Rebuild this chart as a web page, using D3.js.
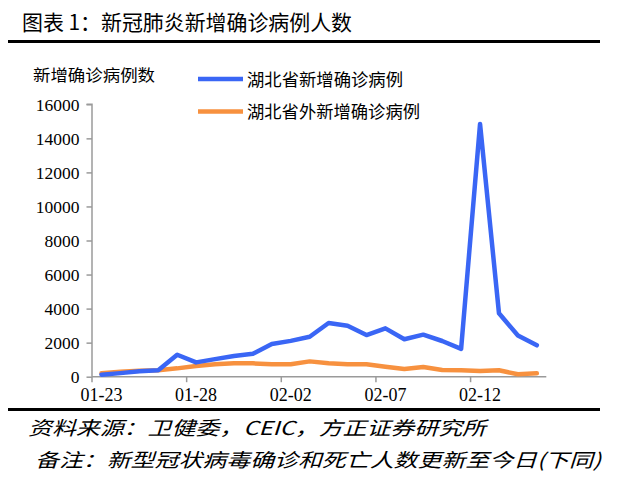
<!DOCTYPE html>
<html><head><meta charset="utf-8">
<script src="https://cdn.jsdelivr.net/npm/d3@7"></script>
<style>html,body{margin:0;padding:0;background:#fff;}svg{display:block;}</style>
</head><body>
<script>
const dates = ["01-23","01-24","01-25","01-26","01-27","01-28","01-29","01-30","01-31","02-01","02-02","02-03","02-04","02-05","02-06","02-07","02-08","02-09","02-10","02-11","02-12","02-13","02-14","02-15"];
const hubei = [120,210,323,380,1291,840,1032,1220,1347,1921,2103,2345,3156,2987,2447,2841,2200,2470,2097,1638,14840,3725,2420,1843];
const outside = [200,290,350,375,490,630,730,785,785,730,730,900,785,730,730,590,450,570,395,375,335,375,145,200];
const yTicks = [0,2000,4000,6000,8000,10000,12000,14000,16000];
const xLabelIdx = [0,5,10,15,20];
const seriesNames = ["湖北省新增确诊病例","湖北省外新增确诊病例"];
const colors = ["#3a66f5","#f7913f"];

const W=617,H=480;
const svg=d3.select("body").append("svg").attr("width",W).attr("height",H);
svg.append("rect").attr("width",W).attr("height",H).attr("fill","#fff");

const cjk='"Noto Sans CJK SC","Noto Sans CJK JP",sans-serif';
const serif='"Liberation Serif","Times New Roman",serif';

// title
svg.append("text").attr("x",22).attr("y",30).style("font-family",cjk).attr("font-size",21)
  .attr("textLength",330).attr("lengthAdjust","spacingAndGlyphs").attr("fill","#000")
  .text("图表 1：新冠肺炎新增确诊病例人数");
svg.append("rect").attr("x",8).attr("y",40).attr("width",592).attr("height",3).attr("fill","#000");
svg.append("rect").attr("x",8).attr("y",408).attr("width",592).attr("height",3).attr("fill","#000");

// footer
svg.append("text").attr("x",28).attr("y",435).style("font-family",cjk).attr("font-size",19)
  .attr("font-style","italic").attr("textLength",458).attr("lengthAdjust","spacingAndGlyphs")
  .text("资料来源：卫健委，CEIC，方正证券研究所");
svg.append("text").attr("x",35).attr("y",467).style("font-family",cjk).attr("font-size",19)
  .attr("font-style","italic").attr("textLength",566).attr("lengthAdjust","spacingAndGlyphs")
  .text("备注：新型冠状病毒确诊和死亡人数更新至今日(下同)");

// scales
const x=d3.scaleBand().domain(dates).range([92,546.3]).padding(0);
const y=d3.scaleLinear().domain([0,16000]).range([376.7,104.3]);
const axisColor="#9a9a9a";

// y axis
const yAxis=d3.axisLeft(y).tickValues(yTicks).tickSize(5.5).tickPadding(7).tickFormat(d3.format("d"));
const gy=svg.append("g").attr("transform","translate(92,0)").call(yAxis);
gy.attr("font-family",serif).attr("font-size",17.5);
gy.select(".domain").attr("stroke",axisColor).attr("stroke-width",1.5).attr("d",`M-5.5,${y(16000)}H0V${y(0)}`);
gy.selectAll(".tick line").attr("stroke",axisColor).attr("stroke-width",1.5);
gy.selectAll(".tick text").style("font-family",serif).style("font-size","17.5px").attr("fill","#000").attr("dy","0.35em");

// x axis
const gx=svg.append("g").attr("transform",`translate(0,${y(0)})`).attr("font-family",serif);
gx.append("line").attr("x1",92).attr("x2",546.3).attr("y1",0).attr("y2",0).attr("stroke",axisColor).attr("stroke-width",1.5);
gx.selectAll("line.t").data(xLabelIdx).enter().append("line").attr("class","t")
  .attr("x1",i=>x(dates[i])).attr("x2",i=>x(dates[i])).attr("y1",0).attr("y2",5.5)
  .attr("stroke",axisColor).attr("stroke-width",1.5);
gx.selectAll("text").data(xLabelIdx).enter().append("text")
  .attr("x",i=>x(dates[i])+x.bandwidth()/2).attr("y",24.5).attr("text-anchor","middle")
  .style("font-family",serif).style("font-size","18px").attr("fill","#000").text(i=>dates[i]);

// y title
svg.append("text").attr("x",33).attr("y",81).style("font-family",cjk).attr("font-size",16)
  .attr("textLength",122).attr("lengthAdjust","spacingAndGlyphs").text("新增确诊病例数");

// lines
const line=d3.line().x((d,i)=>x(dates[i])+x.bandwidth()/2).y(d=>y(d));
[outside,hubei].forEach((s,k)=>{
  const ci = k===0?1:0;
  svg.append("path").datum(s).attr("d",line).attr("fill","none").attr("stroke",colors[ci])
    .attr("stroke-width",4.5).attr("stroke-linejoin","round").attr("stroke-linecap","round");
});

// legend
const legY=[79,111.5], legW=[156,173];
seriesNames.forEach((n,i)=>{
  svg.append("line").attr("x1",198).attr("x2",243).attr("y1",legY[i]).attr("y2",legY[i])
    .attr("stroke",colors[i]).attr("stroke-width",4.5);
  svg.append("text").attr("x",247).attr("y",legY[i]+6.5).style("font-family",cjk).attr("font-size",17)
    .attr("textLength",legW[i]).attr("lengthAdjust","spacingAndGlyphs").text(n);
});
</script>
</body></html>
